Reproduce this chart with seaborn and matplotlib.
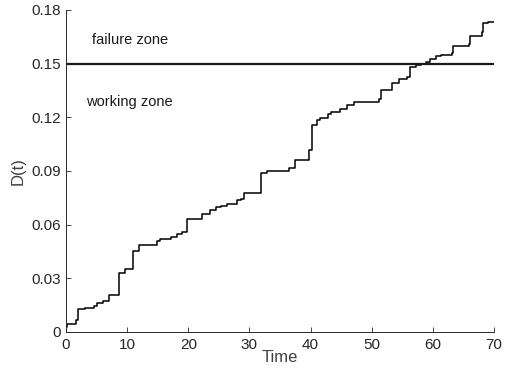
import matplotlib
matplotlib.use("Agg")
import matplotlib.pyplot as plt
import seaborn as sns
import pandas as pd

# Jump times and degradation level reached after each jump
jump_times = [0.0, 0.05, 0.2, 1.6, 2.0, 3.1, 4.5, 5.0, 6.0, 7.1, 8.7, 9.6, 11.0,
              12.0, 14.9, 15.4, 17.1, 18.2, 19.0, 19.8, 22.3, 23.5, 24.6, 25.3,
              26.3, 28.0, 28.6, 29.1, 31.9, 32.9, 36.5, 37.4, 39.8, 40.3, 41.1,
              41.5, 42.8, 43.4, 44.8, 45.9, 47.1, 51.2, 51.5, 53.3, 54.4, 55.7,
              56.2, 57.3, 58.0, 58.8, 59.6, 60.5, 61.3, 63.2, 63.3, 65.9, 66.1,
              68.0, 68.2, 69.0, 70.0]
degradation = [0.0000, 0.0030, 0.0045, 0.0067, 0.0127, 0.0134, 0.0145, 0.0164,
               0.0175, 0.0209, 0.0332, 0.0350, 0.0455, 0.0487, 0.0507, 0.0518,
               0.0530, 0.0546, 0.0557, 0.0630, 0.0658, 0.0680, 0.0700, 0.0706,
               0.0716, 0.0738, 0.0745, 0.0775, 0.0889, 0.0902, 0.0915, 0.0962,
               0.1015, 0.1157, 0.1185, 0.1194, 0.1218, 0.1232, 0.1244, 0.1268,
               0.1288, 0.1305, 0.1355, 0.1390, 0.1413, 0.1428, 0.1482, 0.1492,
               0.1500, 0.1508, 0.1526, 0.1542, 0.1550, 0.1558, 0.1600, 0.1612,
               0.1656, 0.1678, 0.1727, 0.1735, 0.1735]

failure_threshold = 0.15
x_ticks = [0, 10, 20, 30, 40, 50, 60, 70]
y_ticks = [0, 0.03, 0.06, 0.09, 0.12, 0.15, 0.18]
y_tick_labels = ["0", "0.03", "0.06", "0.09", "0.12", "0.15", "0.18"]

sns.set_style("ticks")
plt.rcParams["font.family"] = ["Liberation Sans", "DejaVu Sans"]
plt.rcParams["xtick.direction"] = "in"
plt.rcParams["ytick.direction"] = "in"

df = pd.DataFrame({"Time": jump_times, "D": degradation})

fig = plt.figure(figsize=(5.10, 3.69), dpi=100)
ax = fig.add_axes([0.1294, 0.1003, 0.8392, 0.8726])

sns.lineplot(data=df, x="Time", y="D", ax=ax, color="black", linewidth=1.1,
             drawstyle="steps-post", estimator=None, sort=False)
ax.axhline(failure_threshold, color="#1a1a1a", linewidth=1.6)

ax.text(4.3, 0.1635, "failure zone", fontsize=10.5, color="#1a1a1a", va="center")
ax.text(3.3, 0.1285, "working zone", fontsize=10.5, color="#1a1a1a", va="center")

ax.set_xlim(0, 70)
ax.set_ylim(0, 0.18)
ax.set_xticks(x_ticks)
ax.set_yticks(y_ticks)
ax.set_yticklabels(y_tick_labels)
ax.tick_params(axis="both", labelsize=11, colors="#262626", length=3.5, width=0.6)
ax.tick_params(axis="x", pad=4)
for side in ("top", "right"):
    ax.spines[side].set_visible(False)
for side in ("left", "bottom"):
    ax.spines[side].set_color("#262626")
    ax.spines[side].set_linewidth(0.7)
ax.set_xlabel("Time", fontsize=12, color="#404040", labelpad=-1)
ax.set_ylabel("D(t)", fontsize=12, color="#404040", labelpad=4)

fig.savefig("out.png", dpi=100)
